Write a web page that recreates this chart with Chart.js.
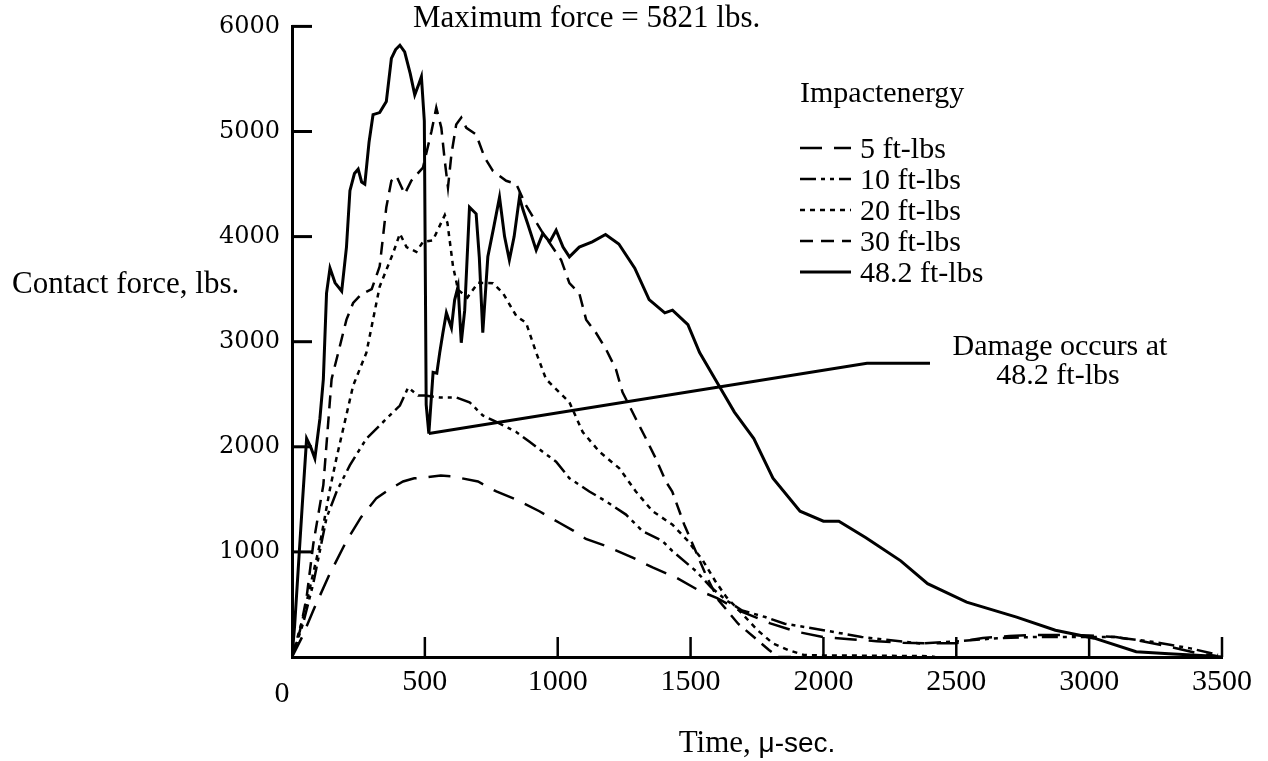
<!DOCTYPE html>
<html>
<head>
<meta charset="utf-8">
<script src="https://cdn.jsdelivr.net/npm/chart.js@4.4.1/dist/chart.umd.min.js"></script>
<style>
  body { margin: 0; background: #fff; }
  #wrap { width: 1268px; height: 761px; }
</style>
</head>
<body>
<div id="wrap"><canvas id="myChart" width="1268" height="761"></canvas></div>
<script>
// time in micro-sec, force in lbs
var t5 = [0, 40, 80, 140, 205, 260, 318, 370, 418, 460, 500, 560, 600, 640, 700, 769, 844, 931, 1006, 1060, 1106, 1181, 1282, 1357, 1446, 1532, 1600, 1694, 1800, 1900, 2000, 2100, 2200, 2300, 2400, 2500, 2550, 2600, 2700, 2800, 2900, 3000, 3100, 3200, 3300, 3400, 3480];
var f5 = [0, 200, 443, 780, 1104, 1330, 1512, 1600, 1670, 1700, 1708, 1726, 1720, 1700, 1670, 1575, 1497, 1387, 1277, 1200, 1123, 1057, 946, 852, 755, 632, 560, 430, 320, 240, 190, 170, 150, 135, 130, 130, 160, 180, 200, 210, 210, 205, 190, 150, 100, 40, 10];

var t10 = [0, 42, 80, 130, 168, 218, 280, 343, 406, 437, 475, 500, 556, 618, 668, 718, 769, 844, 894, 994, 1044, 1119, 1182, 1257, 1319, 1394, 1431, 1519, 1577, 1635, 1694, 1781, 1854, 2000, 2144, 2362, 2508, 2655, 2800, 2945, 3091, 3237, 3382, 3485];
var f10 = [0, 321, 698, 1324, 1575, 1826, 2078, 2236, 2392, 2564, 2487, 2487, 2470, 2470, 2424, 2298, 2236, 2141, 2047, 1858, 1701, 1575, 1481, 1355, 1198, 1104, 1009, 821, 663, 538, 443, 380, 317, 255, 191, 129, 150, 179, 191, 191, 191, 145, 82, 20];

var t20 = [0, 42, 105, 143, 168, 230, 280, 330, 380, 406, 431, 468, 493, 530, 575, 585, 606, 625, 660, 700, 756, 794, 844, 881, 919, 956, 1006, 1044, 1094, 1157, 1232, 1294, 1357, 1431, 1490, 1547, 1592, 1635, 1694, 1752, 1810, 1868, 1926, 2000, 2200, 2400, 2420];
var f20 = [0, 380, 1073, 1600, 1900, 2581, 2896, 3525, 3840, 4028, 3900, 3855, 3950, 3965, 4204, 4130, 3717, 3494, 3420, 3560, 3557, 3462, 3245, 3179, 2896, 2644, 2519, 2424, 2141, 1953, 1795, 1575, 1387, 1261, 1104, 915, 726, 569, 412, 255, 129, 66, 19, 15, 12, 8, 0];

var t30 = [0, 30, 55, 80, 118, 149, 174, 205, 230, 260, 300, 330, 355, 374, 393, 424, 449, 493, 525, 543, 562, 575, 587, 600, 618, 637, 656, 693, 725, 756, 806, 844, 880, 940, 1013, 1044, 1081, 1107, 1144, 1182, 1219, 1244, 1294, 1332, 1369, 1407, 1431, 1476, 1519, 1562, 1606, 1679, 1752, 1795, 1830, 1900];
var f30 = [0, 250, 569, 1073, 1638, 2644, 2896, 3210, 3368, 3450, 3500, 3717, 4280, 4531, 4578, 4405, 4531, 4657, 5003, 5226, 5035, 4720, 4468, 4783, 5066, 5132, 5035, 4972, 4752, 4626, 4531, 4500, 4300, 4050, 3777, 3557, 3462, 3210, 3085, 2927, 2739, 2519, 2267, 2078, 1890, 1670, 1575, 1261, 1009, 755, 538, 317, 160, 66, 0, 0];

var t48 = [0, 10, 25, 40, 55, 70, 86, 105, 118, 130, 143, 162, 187, 205, 218, 235, 249, 262, 274, 290, 305, 330, 355, 374, 390, 406, 424, 445, 462, 477, 487, 498, 505, 515, 531, 545, 556, 568, 581, 600, 612, 625, 637, 650, 668, 693, 705, 718, 737, 760, 781, 800, 818, 836, 856, 870, 887, 919, 944, 970, 994, 1020, 1044, 1081, 1130, 1180, 1230, 1290, 1344, 1403, 1432, 1490, 1534, 1607, 1665, 1738, 1810, 1912, 2000, 2058, 2160, 2291, 2392, 2539, 2727, 2873, 3019, 3177, 3300, 3456, 3500];
var f48 = [0, 300, 900, 1500, 2078, 2000, 1890, 2267, 2644, 3462, 3700, 3560, 3480, 3900, 4437, 4600, 4641, 4520, 4500, 4900, 5160, 5180, 5286, 5695, 5780, 5821, 5758, 5550, 5349, 5450, 5522, 5100, 2400, 2126, 2708, 2700, 2896, 3085, 3274, 3132, 3396, 3525, 2990, 3300, 4280, 4217, 3800, 3085, 3808, 4100, 4374, 4000, 3777, 4000, 4374, 4250, 4123, 3871, 4030, 3950, 4060, 3900, 3808, 3900, 3950, 4020, 3930, 3700, 3400, 3274, 3300, 3163, 2896, 2581, 2330, 2078, 1701, 1387, 1292, 1292, 1135, 915, 698, 522, 380, 255, 179, 50, 30, 10, 0];

// leader line for the damage note
var leaderT = [515, 2164, 2401];
var leaderF = [2126, 2795, 2795];

var seriesLabels = ['5 ft-lbs', '10 ft-lbs', '20 ft-lbs', '30 ft-lbs', '48.2 ft-lbs'];
var xTicks = [0, 500, 1000, 1500, 2000, 2500, 3000, 3500];
var yTicks = [0, 1000, 2000, 3000, 4000, 5000, 6000];

function pts(ts, fs) {
  return ts.map(function (t, i) { return { x: t, y: fs[i] }; });
}

function line(label, ts, fs, dash, width) {
  return {
    label: label,
    data: pts(ts, fs),
    borderColor: '#000',
    borderWidth: width,
    borderDash: dash,
    pointRadius: 0,
    fill: false,
    tension: 0
  };
}

var datasets = [
  line(seriesLabels[0], t5, f5, [22, 12], 2.5),
  line(seriesLabels[1], t10, f10, [16, 5, 4, 5, 4, 5], 2.5),
  line(seriesLabels[2], t20, f20, [5, 5], 2.5),
  line(seriesLabels[3], t30, f30, [13, 8], 2.5),
  line(seriesLabels[4], t48, f48, [], 3),
  line('leader', leaderT, leaderF, [], 3)
];

var serif = 'Liberation Serif, Times New Roman, serif';
var schoolbook = 'DejaVu Serif, serif';

var extras = {
  id: 'extras',
  afterDraw: function (chart) {
    var ctx = chart.ctx;
    var xs = chart.scales.x, ys = chart.scales.y, ca = chart.chartArea;
    ctx.save();
    ctx.strokeStyle = '#000';
    ctx.fillStyle = '#000';

    // inward tick marks
    ctx.lineWidth = 3;
    ctx.setLineDash([]);
    yTicks.forEach(function (v) {
      if (v === 0) return;
      var py = ys.getPixelForValue(v);
      ctx.beginPath(); ctx.moveTo(ca.left, py); ctx.lineTo(ca.left + 20, py); ctx.stroke();
    });
    ctx.lineWidth = 2.5;
    xTicks.forEach(function (v) {
      if (v === 0) return;
      var px = xs.getPixelForValue(v);
      ctx.beginPath(); ctx.moveTo(px, ca.bottom); ctx.lineTo(px, ca.bottom - 20); ctx.stroke();
    });

    ctx.textBaseline = 'alphabetic';

    // the lone 0 under the corner
    ctx.font = '30px ' + serif;
    ctx.textAlign = 'center';
    ctx.fillText('0', xs.getPixelForValue(0) - 10, 702);

    // axis titles
    ctx.font = '31px ' + serif;
    ctx.textAlign = 'left';
    ctx.fillText('Contact force, lbs.', 12, 293);

    var a = 'Time, ';
    ctx.font = '31px ' + serif;
    var wa = ctx.measureText(a).width;
    ctx.font = '28px Liberation Sans, Arial, sans-serif';
    var wb = ctx.measureText('\u03bc-sec.').width;
    var x0 = (ca.left + ca.right) / 2 - (wa + wb) / 2;
    ctx.font = '31px ' + serif;
    ctx.fillText(a, x0, 752);
    ctx.font = '28px Liberation Sans, Arial, sans-serif';
    ctx.fillText('\u03bc-sec.', x0 + wa, 752);

    // notes
    ctx.font = '31px ' + serif;
    ctx.fillText('Maximum force = 5821 lbs.', 413, 27);
    ctx.font = '30px ' + serif;
    ctx.textAlign = 'center';
    ctx.fillText('Damage occurs at', 1060, 355);
    ctx.fillText('48.2 ft-lbs', 1058, 384);

    // legend
    ctx.textAlign = 'left';
    ctx.font = '30px ' + serif;
    ctx.fillText('Impactenergy', 800, 102);
    for (var i = 0; i < 5; i++) {
      var ds = chart.data.datasets[i];
      var yy = 148 + i * 31;
      ctx.lineWidth = ds.borderWidth;
      ctx.setLineDash(ds.borderDash);
      ctx.beginPath(); ctx.moveTo(800, yy); ctx.lineTo(851, yy); ctx.stroke();
      ctx.setLineDash([]);
      ctx.fillText(ds.label, 860, yy + 10);
    }
    ctx.restore();
  }
};

var ctx = document.getElementById('myChart').getContext('2d');
var myChart = new Chart(ctx, {
  type: 'line',
  data: { datasets: datasets },
  options: {
    responsive: false,
    animation: false,
    layout: { padding: { top: 21, right: 46, left: 0, bottom: 0 } },
    plugins: { legend: { display: false }, tooltip: { enabled: false } },
    scales: {
      x: {
        type: 'linear',
        min: 0, max: 3500,
        afterBuildTicks: function (s) { s.ticks = xTicks.map(function (v) { return { value: v }; }); },
        afterFit: function (s) { s.height = 104; },
        ticks: {
          autoSkip: false, maxRotation: 0, padding: 7, color: '#000',
          font: { family: serif, size: 30 },
          callback: function (v) { return v === 0 ? '' : v; }
        },
        grid: { display: false, drawTicks: false },
        border: { display: true, color: '#000', width: 3 }
      },
      y: {
        min: 0, max: 6000,
        afterBuildTicks: function (s) { s.ticks = yTicks.map(function (v) { return { value: v }; }); },
        afterFit: function (s) { s.width = 292; },
        ticks: {
          padding: 12, color: '#000',
          font: { family: schoolbook, size: 24 },
          callback: function (v) { return v === 0 ? '' : v; }
        },
        grid: { display: false, drawTicks: false },
        border: { display: true, color: '#000', width: 3 }
      }
    }
  },
  plugins: [extras]
});
</script>
</body>
</html>
